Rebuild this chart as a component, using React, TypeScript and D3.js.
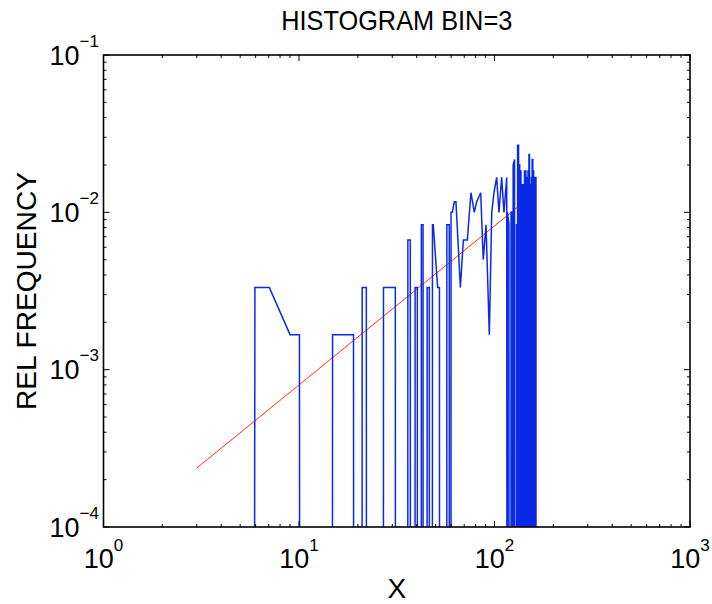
import React from "react";
import * as d3 from "d3";

const W = 712;
const H = 604;

const titleText = "HISTOGRAM BIN=3";
const xLabelText = "X";
const yLabelText = "REL FREQUENCY";

const xTickExps = [0, 1, 2, 3];
const yTickExps = [-4, -3, -2, -1];

// Blue histogram line (x, relative frequency); 0 = empty bin (falls off the log axis)
const histX = [
  5.9, 5.95, 7.05, 9.0, 10.05, 10.1,
  14.8, 14.85, 19.0, 19.05,
  21.0, 21.05, 22.1, 22.15,
  27.0, 27.05, 31.1, 31.15,
  36.0, 36.05, 37.1, 37.15,
  39.2, 39.25, 40.3, 40.35,
  42.2, 42.25, 43.1, 43.15,
  45.2, 45.25, 46.4, 46.45,
  48.1, 48.15, 48.6, 51.2, 52.3, 52.35,
  57.0, 57.05, 58.7, 58.75,
  59.9, 59.95, 60.8, 62.3, 63.5, 66.9, 69.3, 72.6, 75.8, 78.8, 81.1, 85.0, 87.6,
  90.5, 94.1, 96.8, 99.4, 102.6, 105.4, 108.8, 111.8, 115.5, 115.9,
  116.4, 116.45, 118.6, 118.65,
  121.5, 121.55, 123.2, 123.25,
  124.5, 124.55, 126.6, 126.65,
  129.5, 129.55, 130.7, 130.75,
  131.2, 131.25, 132.8, 132.85,
  133.6, 133.65, 134.6, 134.65,
  135.3, 135.35, 136.6, 136.65,
  137.4, 137.45, 139.0, 139.05,
  139.8, 139.85, 141.4, 141.45,
  142.3, 142.35, 144.6, 144.65,
  145.5, 145.55, 147.4, 147.45,
  148.3, 148.35, 149.4, 149.45,
  150.0, 150.05, 151.0, 151.05,
  152.0, 152.05, 153.4, 153.45,
  154.3, 154.35, 155.2, 155.25,
  155.8, 155.85, 157.0, 157.05,
  157.8, 157.85, 158.6, 158.65,
  159.2, 159.25, 160.2, 160.25,
  161.0, 161.05, 163.0, 163.05,
];
const histY = [
  0, 0.00333, 0.00333, 0.00167, 0.00167, 0,
  0, 0.00167, 0.00167, 0,
  0, 0.00333, 0.00333, 0,
  0, 0.00333, 0.00333, 0,
  0, 0.00667, 0.00667, 0,
  0, 0.00333, 0.00333, 0,
  0, 0.00833, 0.00833, 0,
  0, 0.00333, 0.00333, 0,
  0, 0.00833, 0.00833, 0.00333, 0.00333, 0,
  0, 0.00833, 0.00833, 0,
  0, 0.01, 0.01, 0.01167, 0.01167, 0.00333, 0.00667, 0.00667, 0.01333, 0.01, 0.01167, 0.01333, 0.005,
  0.00833, 0.00167, 0.01, 0.01333, 0.01667, 0.01, 0.01667, 0.01, 0.01667, 0,
  0, 0.01, 0.00833, 0,
  0, 0.01, 0.01, 0,
  0, 0.02, 0.02167, 0,
  0, 0.00833, 0.00833, 0,
  0, 0.02667, 0.02667, 0,
  0, 0.02, 0.02, 0,
  0, 0.01833, 0.01833, 0,
  0, 0.015, 0.015, 0,
  0, 0.015, 0.015, 0,
  0, 0.01833, 0.01833, 0,
  0, 0.01667, 0.01667, 0,
  0, 0.01833, 0.01833, 0,
  0, 0.02333, 0.02333, 0,
  0, 0.015, 0.015, 0,
  0, 0.01667, 0.01667, 0,
  0, 0.02167, 0.02167, 0,
  0, 0.01833, 0.01833, 0,
  0, 0.01667, 0.01667, 0,
  0, 0.01667, 0.01667, 0,
];

// Red power-law fit line
const fitX = [3, 135];
const fitY = [2.37e-4, 1.11e-2];

const FONT = "'Liberation Sans', Arial, Helvetica, sans-serif";

export default function App() {
  const left = 103.5;
  const right = 690;
  const top = 55;
  const bottom = 527;

  const x = d3.scaleLog().domain([1, 1000]).range([left, right]);
  const y = d3.scaleLog().domain([1e-4, 1e-1]).range([bottom, top]);
  const offAxis = 1e-6;

  const histPts: [number, number][] = histX.map((v, i) => [v, histY[i]]);
  const fitPts: [number, number][] = fitX.map((v, i) => [v, fitY[i]]);

  const line = d3
    .line<[number, number]>()
    .x((d) => x(d[0]))
    .y((d) => (d[1] > 0 ? y(d[1]) : y(offAxis)));

  const majorLen = 6;
  const minorLen = 3;

  const xMinor: number[] = [];
  for (let e = 0; e < 3; e++) for (let k = 2; k <= 9; k++) xMinor.push(k * Math.pow(10, e));
  const yMinor: number[] = [];
  for (let e = -4; e < -1; e++) for (let k = 2; k <= 9; k++) yMinor.push(k * Math.pow(10, e));

  const ticks: JSX.Element[] = [];
  xTickExps.forEach((e) => {
    const px = x(Math.pow(10, e));
    ticks.push(<line key={`xb${e}`} x1={px} x2={px} y1={bottom} y2={bottom - majorLen} />);
    ticks.push(<line key={`xt${e}`} x1={px} x2={px} y1={top} y2={top + majorLen} />);
  });
  xMinor.forEach((v, i) => {
    const px = x(v);
    ticks.push(<line key={`xmb${i}`} x1={px} x2={px} y1={bottom} y2={bottom - minorLen} />);
    ticks.push(<line key={`xmt${i}`} x1={px} x2={px} y1={top} y2={top + minorLen} />);
  });
  yTickExps.forEach((e) => {
    const py = y(Math.pow(10, e));
    ticks.push(<line key={`yl${e}`} x1={left} x2={left + majorLen} y1={py} y2={py} />);
    ticks.push(<line key={`yr${e}`} x1={right} x2={right - majorLen} y1={py} y2={py} />);
  });
  yMinor.forEach((v, i) => {
    const py = y(v);
    ticks.push(<line key={`yml${i}`} x1={left} x2={left + minorLen} y1={py} y2={py} />);
    ticks.push(<line key={`ymr${i}`} x1={right} x2={right - minorLen} y1={py} y2={py} />);
  });

  const fmtExp = (e: number) => (e < 0 ? `\u2212${Math.abs(e)}` : `${e}`);

  return (
    <svg
      width={W}
      height={H}
      viewBox={`0 0 ${W} ${H}`}
      style={{ position: "absolute", left: 0, top: 0, background: "#fff" }}
    >
      <defs>
        <clipPath id="plotClip">
          <rect x={left} y={top} width={right - left} height={bottom - top} />
        </clipPath>
      </defs>
      <rect x={0} y={0} width={W} height={H} fill="#fff" />

      <g clipPath="url(#plotClip)">
        <path d={line(fitPts) || ""} fill="none" stroke="#ff3016" strokeWidth={1} />
        <path
          d={line(histPts) || ""}
          fill="none"
          stroke="#0a2ae8"
          strokeWidth={1.5}
          strokeLinejoin="miter"
        />
      </g>

      <g stroke="#000" strokeWidth={1}>{ticks}</g>
      <rect
        x={left}
        y={top}
        width={right - left}
        height={bottom - top}
        fill="none"
        stroke="#000"
        strokeWidth={1.6}
      />

      <g fontFamily={FONT} fill="#000">
        {xTickExps.map((e) => (
          <text key={`xl${e}`} x={x(Math.pow(10, e))} y={568} textAnchor="middle" fontSize={27}>
            10
            <tspan fontSize={17} dy={-17.5}>
              {fmtExp(e)}
            </tspan>
          </text>
        ))}
        {yTickExps.map((e) => (
          <text key={`yl${e}`} x={99} y={y(Math.pow(10, e)) + 9.5} textAnchor="end" fontSize={27}>
            10
            <tspan fontSize={17} dy={-18}>
              {fmtExp(e)}
            </tspan>
          </text>
        ))}
        <text
          x={(left + right) / 2}
          y={30}
          textAnchor="middle"
          fontSize={28}
          textLength={231}
          lengthAdjust="spacingAndGlyphs"
        >
          {titleText}
        </text>
        <text x={(left + right) / 2} y={598} textAnchor="middle" fontSize={28}>
          {xLabelText}
        </text>
        <text
          transform={`translate(36, ${(top + bottom) / 2}) rotate(-90)`}
          textAnchor="middle"
          fontSize={28}
          textLength={238}
          lengthAdjust="spacingAndGlyphs"
        >
          {yLabelText}
        </text>
      </g>
    </svg>
  );
}
